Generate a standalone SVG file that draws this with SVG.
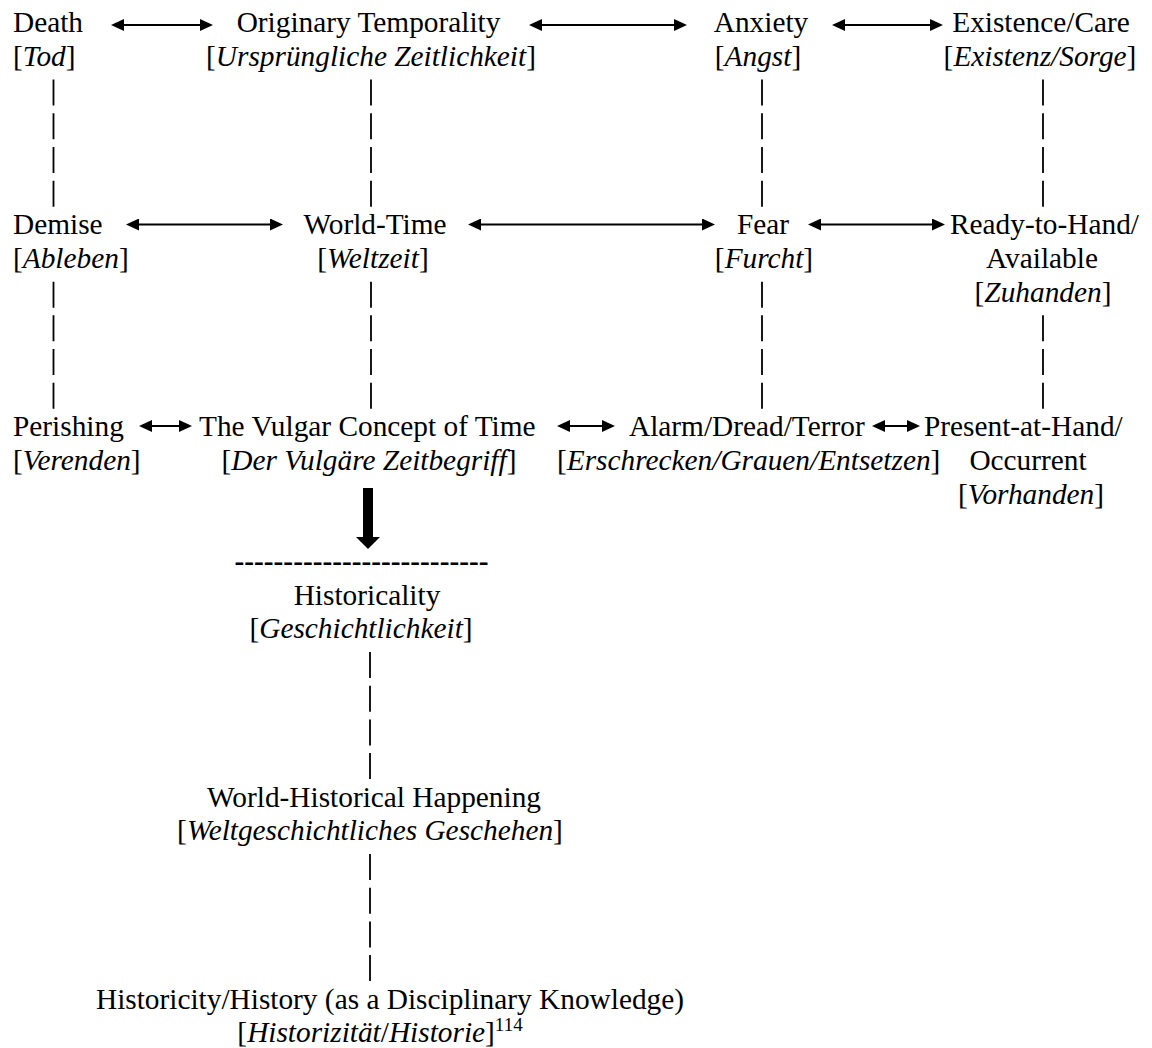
<svg xmlns="http://www.w3.org/2000/svg" width="1152" height="1048" viewBox="0 0 1152 1048">
<style>
text { font-family: "Liberation Serif", "Times New Roman", serif; font-size: 29.33px; fill: #000; }
.m { text-anchor: middle; }
.i { font-style: italic; }
.b { font-weight: bold; }
.sup { font-size: 19px; }
.arr { stroke: #000; stroke-width: 2; fill: none; marker-start: url(#ah); marker-end: url(#ah); }
.pipe { stroke: #000; stroke-width: 1.8; fill: none; }
</style>
<defs>
<marker id="ah" viewBox="0 0 13 12" refX="7" refY="6" markerWidth="13" markerHeight="12" markerUnits="userSpaceOnUse" orient="auto-start-reverse">
<path d="M0,0 L13,6 L0,12 Z" fill="#000"/>
</marker>
</defs>
<rect width="1152" height="1048" fill="#fff"/>

<g id="node-death"><text x="13" y="32.3">Death</text><text x="13" y="66">[<tspan class="i">Tod</tspan>]</text></g>
<g id="node-originary"><text class="m" x="368.5" y="32.3">Originary Temporality</text><text class="m" x="371" y="66">[<tspan class="i">Ursprüngliche Zeitlichkeit</tspan>]</text></g>
<g id="node-anxiety"><text class="m" x="761" y="32.3">Anxiety</text><text class="m" x="758" y="66">[<tspan class="i">Angst</tspan>]</text></g>
<g id="node-existence"><text class="m" x="1041" y="32.3">Existence/Care</text><text class="m" x="1040" y="66">[<tspan class="i">Existenz/Sorge</tspan>]</text></g>

<g id="node-demise"><text x="13" y="234.3">Demise</text><text x="13" y="268">[<tspan class="i">Ableben</tspan>]</text></g>
<g id="node-worldtime"><text class="m" x="375" y="234.3">World-Time</text><text class="m" x="373" y="268">[<tspan class="i">Weltzeit</tspan>]</text></g>
<g id="node-fear"><text class="m" x="763" y="234.3">Fear</text><text class="m" x="764" y="268">[<tspan class="i">Furcht</tspan>]</text></g>
<g id="node-ready"><text x="950" y="234.3">Ready-to-Hand/</text><text class="m" x="1042" y="268">Available</text><text class="m" x="1043" y="301.7">[<tspan class="i">Zuhanden</tspan>]</text></g>

<g id="node-perishing"><text x="13" y="436.3">Perishing</text><text x="13" y="470">[<tspan class="i">Verenden</tspan>]</text></g>
<g id="node-vulgar"><text x="199" y="436.3">The Vulgar Concept of Time</text><text class="m" x="369" y="470">[<tspan class="i">Der Vulgäre Zeitbegriff</tspan>]</text></g>
<g id="node-alarm"><text x="629" y="436.3">Alarm/Dread/Terror</text><text x="557" y="470">[<tspan class="i">Erschrecken/Grauen/Entsetzen</tspan>]</text></g>
<g id="node-present"><text x="924" y="436.3">Present-at-Hand/</text><text class="m" x="1028" y="470">Occurrent</text><text class="m" x="1031" y="503.7">[<tspan class="i">Vorhanden</tspan>]</text></g>

<g id="node-historicality"><text class="b m" x="361.5" y="571">--------------------------</text><text class="m" x="367" y="604.7">Historicality</text><text class="m" x="361" y="638.4">[<tspan class="i">Geschichtlichkeit</tspan>]</text></g>
<g id="node-worldhist"><text class="m" x="374" y="806.7">World-Historical Happening</text><text class="m" x="370" y="840.4">[<tspan class="i">Weltgeschichtliches Geschehen</tspan>]</text></g>
<g id="node-historicity"><text class="m" x="390" y="1008.7">Historicity/History (as a Disciplinary Knowledge)</text><text class="m" x="380" y="1042.4">[<tspan class="i">Historizität</tspan>/<tspan class="i">Historie</tspan>]<tspan class="sup" dy="-11">114</tspan></text></g>

<g id="connectors">
<line class="arr" x1="117" y1="25" x2="207" y2="25"/>
<line class="arr" x1="535" y1="25" x2="681" y2="25"/>
<line class="arr" x1="838" y1="25" x2="937" y2="25"/>
<line class="arr" x1="132" y1="224.5" x2="277" y2="224.5"/>
<line class="arr" x1="474" y1="224.5" x2="709" y2="224.5"/>
<line class="arr" x1="814" y1="224.5" x2="939" y2="224.5"/>
<line class="arr" x1="145" y1="426" x2="186" y2="426"/>
<line class="arr" x1="563" y1="426" x2="609" y2="426"/>
<line class="arr" x1="878" y1="426" x2="914" y2="426"/>
<g id="pipes">
<path class="pipe" d="M53.5,79.6 V105.6 M53.5,113.3 V139.3 M53.5,147 V173 M53.5,180.7 V206.7"/>
<path class="pipe" d="M371,79.6 V105.6 M371,113.3 V139.3 M371,147 V173 M371,180.7 V206.7"/>
<path class="pipe" d="M762,79.6 V105.6 M762,113.3 V139.3 M762,147 V173 M762,180.7 V206.7"/>
<path class="pipe" d="M1043,79.6 V105.6 M1043,113.3 V139.3 M1043,147 V173 M1043,180.7 V206.7"/>
<path class="pipe" d="M53.5,281.7 V307.7 M53.5,315.3 V341.3 M53.5,349 V375 M53.5,382.7 V408.7"/>
<path class="pipe" d="M371,281.7 V307.7 M371,315.3 V341.3 M371,349 V375 M371,382.7 V408.7"/>
<path class="pipe" d="M762,281.7 V307.7 M762,315.3 V341.3 M762,349 V375 M762,382.7 V408.7"/>
<path class="pipe" d="M1043,315.3 V341.3 M1043,349 V375 M1043,382.7 V408.7"/>
<path class="pipe" d="M370,652 V678 M370,685.7 V711.7 M370,719.4 V745.4 M370,753 V779"/>
<path class="pipe" d="M370,854 V880 M370,887.7 V913.7 M370,921.4 V947.4 M370,955 V981"/>
</g>
<g id="down-arrow">
<rect x="363" y="488" width="10" height="50" fill="#000"/>
<path d="M356,537 L380,537 L368,549 Z" fill="#000"/>
</g>
</g>
</svg>
